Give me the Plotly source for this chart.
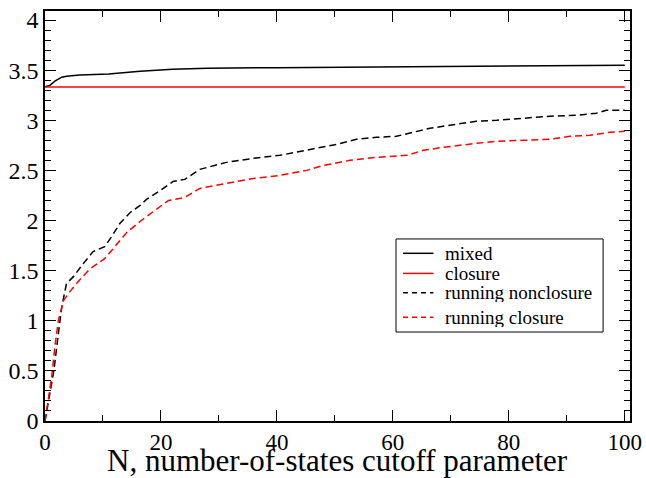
import plotly.graph_objects as go

# ---- data ----
mixed_n = [0, 0.9, 1.7, 2.9, 3.7, 6, 11, 16.4, 22, 28, 40, 51, 60, 70, 85, 100]
mixed_v = [3.333, 3.35, 3.39, 3.43, 3.44, 3.452, 3.462, 3.49, 3.51, 3.52, 3.525, 3.53, 3.535, 3.54, 3.545, 3.55]

closure_n = [0, 100]
closure_v = [3.333, 3.333]

run_nonclos_n = [0, 1, 1.55, 2.3, 2.9, 3.7, 4.9, 6.6, 8.3, 10.3, 11.5, 12.9, 14.7, 16.4, 17.5,
                 20.4, 22.1, 24.1, 26.7, 31.3, 35.9, 40.5, 45.1, 50.3, 53.7, 57.2, 60.6, 62.9,
                 66.4, 69.8, 74.4, 77.9, 82.5, 87.1, 91.7, 95.1, 96.8, 100]
run_nonclos_v = [0, 0.33, 0.51, 0.87, 1.14, 1.37, 1.44, 1.57, 1.69, 1.74, 1.84, 1.97, 2.08, 2.15, 2.21,
                 2.32, 2.39, 2.41, 2.51, 2.58, 2.62, 2.65, 2.70, 2.76, 2.81, 2.83, 2.84, 2.87,
                 2.92, 2.95, 2.99, 3.00, 3.02, 3.04, 3.05, 3.07, 3.10, 3.10]

run_clos_n = [0, 0.6, 1.15, 1.7, 2.3, 3.2, 4.0, 6.0, 7.8, 10.3, 12.4, 14.1, 16.6, 18.5, 19.8,
              21.3, 24.1, 26.7, 31.3, 35.9, 40.5, 45.1, 48.0, 52.6, 57.2, 62.4, 65.2, 68.7,
              74.4, 77.9, 82.5, 87.1, 90.5, 94.0, 97.4, 100]
run_clos_v = [0, 0.21, 0.44, 0.74, 1.0, 1.2, 1.27, 1.41, 1.52, 1.62, 1.76, 1.88, 2.0, 2.08, 2.13,
              2.2, 2.23, 2.32, 2.37, 2.42, 2.45, 2.50, 2.55, 2.60, 2.63, 2.65, 2.70, 2.73,
              2.77, 2.79, 2.80, 2.81, 2.84, 2.85, 2.88, 2.89]

series_names = ["mixed", "closure", "running nonclosure", "running closure"]
series_colors = ["black", "red", "black", "red"]
series_dashes = ["solid", "solid", "7px,4px", "7px,4px"]

x_ticks = [0, 20, 40, 60, 80, 100]
y_ticks = [0, 0.5, 1, 1.5, 2, 2.5, 3, 3.5, 4]
y_tick_labels = ["0", "0.5", "1", "1.5", "2", "2.5", "3", "3.5", "4"]
x_title = "N, number-of-states cutoff parameter"

FONT = "Liberation Serif"

fig = go.Figure()
series = [(mixed_n, mixed_v), (closure_n, closure_v),
          (run_nonclos_n, run_nonclos_v), (run_clos_n, run_clos_v)]
for (xs, ys), nm, col, ds in zip(series, series_names, series_colors, series_dashes):
    fig.add_trace(go.Scatter(x=xs, y=ys, mode="lines", name=nm, showlegend=False,
                             line=dict(color=col, width=1.5, dash=ds)))

# legend drawn as a boxed key (paper coordinates of the plot area)
leg_x0, leg_x1, leg_y0, leg_y1 = 0.600, 0.954, 0.217, 0.444
row_y = [0.409, 0.360, 0.313, 0.253]
fig.add_shape(type="rect", xref="paper", yref="paper", x0=leg_x0, x1=leg_x1, y0=leg_y0, y1=leg_y1,
              line=dict(color="black", width=1), fillcolor="white", layer="above")
for nm, col, ds, ry in zip(series_names, series_colors, series_dashes, row_y):
    fig.add_shape(type="line", xref="paper", yref="paper", x0=0.612, x1=0.664, y0=ry, y1=ry,
                  line=dict(color=col, width=1.5, dash=("solid" if ds == "solid" else "5px,4px")),
                  layer="above")
    fig.add_annotation(xref="paper", yref="paper", x=0.681, y=ry, text=nm, showarrow=False,
                       xanchor="left", yanchor="middle", height=19, valign="middle",
                       font=dict(family=FONT, size=19, color="black"))

# x-axis title placed below the tick labels
fig.add_annotation(xref="paper", yref="paper", x=0.5, y=-0.097, text=x_title, showarrow=False,
                   xanchor="center", yanchor="middle",
                   font=dict(family=FONT, size=31, color="black"))

fig.update_layout(
    width=646, height=478,
    margin=dict(l=45, r=16, t=11, b=57),
    paper_bgcolor="white", plot_bgcolor="white",
    font=dict(family=FONT, color="black", size=23),
    showlegend=False,
    xaxis=dict(range=[0, 100.9], tickvals=x_ticks, ticks="inside", ticklen=11, automargin=False,
               tickwidth=1, tickcolor="black", showline=True, linecolor="black", linewidth=1.5,
               mirror="ticks", showgrid=False, zeroline=False,
               tickfont=dict(family=FONT, size=23),
               minor=dict(ticks="inside", ticklen=6, dtick=10, tickcolor="black", showgrid=False)),
    yaxis=dict(range=[0, 4.09], tickvals=y_ticks, ticktext=y_tick_labels, ticks="inside", ticklen=11,
               automargin=False,
               tickwidth=1, tickcolor="black", showline=True, linecolor="black", linewidth=1.5,
               mirror="ticks", showgrid=False, zeroline=False,
               tickfont=dict(family=FONT, size=24),
               minor=dict(ticks="inside", ticklen=6, dtick=0.1, tickcolor="black", showgrid=False)),
)

fig.write_html("out.html")
